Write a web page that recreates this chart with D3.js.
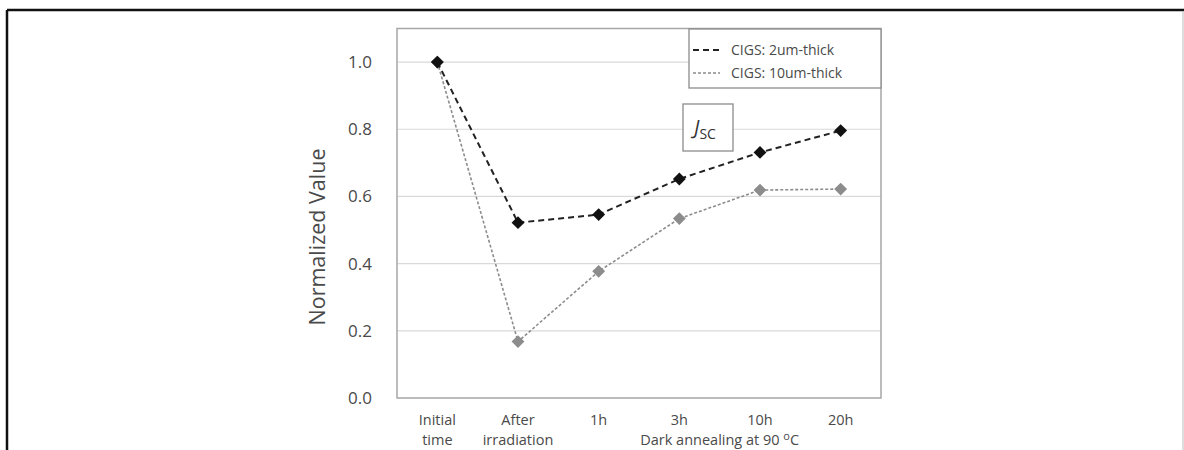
<!DOCTYPE html>
<html>
<head>
<meta charset="utf-8">
<script src="https://cdn.jsdelivr.net/npm/d3@7"></script>
<style>
  body { margin: 0; background: #fff; }
  svg { display: block; font-family: "Open Sans", "Noto Sans", sans-serif; }
</style>
</head>
<body>
<svg id="chart" width="1184" height="450"></svg>
<script>
const categories = ['Initial time', 'After irradiation', '1h', '3h', '10h', '20h'];
const categoryLines = [['Initial', 'time'], ['After', 'irradiation'], ['1h'], ['3h'], ['10h'], ['20h']];
const thin2um = [1.0, 0.522, 0.546, 0.652, 0.731, 0.796];
const thick10um = [1.0, 0.168, 0.377, 0.534, 0.619, 0.622];
const yTicks = [0.0, 0.2, 0.4, 0.6, 0.8, 1.0];
const seriesNames = ['CIGS: 2um-thick', 'CIGS: 10um-thick'];

const svg = d3.select('#chart');
const textCol = '#4a4a4a';

// outer frame of the figure
svg.append('line').attr('x1', 7).attr('x2', 1184).attr('y1', 10).attr('y2', 10)
    .attr('stroke', '#111').attr('stroke-width', 2.5);
svg.append('line').attr('x1', 7).attr('x2', 7).attr('y1', 10).attr('y2', 450)
    .attr('stroke', '#111').attr('stroke-width', 2.5);
svg.append('line').attr('x1', 1183).attr('x2', 1183).attr('y1', 11).attr('y2', 450)
    .attr('stroke', '#bbb').attr('stroke-width', 1);

const plotL = 397, plotR = 881, plotT = 28.5, plotB = 398;

const x = d3.scaleBand().domain(categories).range([plotL, plotR]);
const y = d3.scaleLinear().domain([0, 1.1]).range([plotB, plotT]);
const cx = d => x(d) + x.bandwidth() / 2;

// gridlines
svg.append('g').selectAll('line')
    .data(yTicks.filter(d => d > 0))
    .enter().append('line')
        .attr('x1', plotL).attr('x2', plotR)
        .attr('y1', d => y(d)).attr('y2', d => y(d))
        .attr('stroke', '#d9d9d9').attr('stroke-width', 1.2);

// plot box
svg.append('rect')
    .attr('x', plotL).attr('y', plotT)
    .attr('width', plotR - plotL).attr('height', plotB - plotT)
    .attr('fill', 'none').attr('stroke', '#a6a6a6').attr('stroke-width', 1.5);

// y axis
const yAxis = svg.append('g')
    .attr('transform', 'translate(' + plotL + ',0)')
    .call(d3.axisLeft(y).tickValues(yTicks).tickFormat(d3.format('.1f')).tickSize(0).tickPadding(25));
yAxis.select('.domain').remove();
yAxis.selectAll('text').attr('font-size', 17).attr('fill', textCol)
    .attr('font-family', '"Open Sans", sans-serif');

svg.append('text')
    .attr('transform', 'translate(325,237) rotate(-90)')
    .attr('text-anchor', 'middle')
    .attr('font-size', 21.5).attr('fill', textCol)
    .text('Normalized Value');

// x labels
const xl = svg.append('g').selectAll('text')
    .data(categories)
    .enter().append('text')
        .attr('x', d => cx(d))
        .attr('y', 425)
        .attr('text-anchor', 'middle')
        .attr('font-size', 14.5).attr('fill', textCol);
xl.each(function(d, i) {
    const t = d3.select(this);
    categoryLines[i].forEach((s, j) => {
        t.append('tspan').attr('x', cx(d)).attr('dy', j === 0 ? 0 : 20).text(s);
    });
});
svg.append('text')
    .attr('x', cx('3h') + x.bandwidth() / 2).attr('y', 445)
    .attr('text-anchor', 'middle')
    .attr('font-size', 14.5).attr('fill', textCol)
    .html('Dark annealing at 90 <tspan dy="-5" font-size="11">o</tspan><tspan dy="5">C</tspan>');

// series
const line = d3.line().x((d, i) => cx(categories[i])).y(d => y(d));
const diamond = d3.symbol().type(d3.symbolDiamond2);

svg.append('path').datum(thick10um)
    .attr('d', line).attr('fill', 'none')
    .attr('stroke', '#8c8c8c').attr('stroke-width', 1.6).attr('stroke-dasharray', '3,2');
svg.append('g').selectAll('path')
    .data(thick10um).enter().append('path')
        .attr('d', diamond.size(105))
        .attr('transform', (d, i) => 'translate(' + cx(categories[i]) + ',' + y(d) + ')')
        .attr('fill', '#8c8c8c');

svg.append('path').datum(thin2um)
    .attr('d', line).attr('fill', 'none')
    .attr('stroke', '#222').attr('stroke-width', 2).attr('stroke-dasharray', '6,4');
svg.append('g').selectAll('path')
    .data(thin2um).enter().append('path')
        .attr('d', diamond.size(105))
        .attr('transform', (d, i) => 'translate(' + cx(categories[i]) + ',' + y(d) + ')')
        .attr('fill', '#111');

// legend
const lg = svg.append('g');
lg.append('rect').attr('x', 689).attr('y', 29).attr('width', 192).attr('height', 59)
    .attr('fill', '#fff').attr('stroke', '#8c8c8c').attr('stroke-width', 1.3);
const lgStyles = [
    { stroke: '#222', width: 2, dash: '6,4' },
    { stroke: '#8c8c8c', width: 1.4, dash: '3,2' }
];
seriesNames.forEach((name, i) => {
    const yy = 50 + i * 23;
    lg.append('line').attr('x1', 693).attr('x2', 720).attr('y1', yy).attr('y2', yy)
        .attr('stroke', lgStyles[i].stroke).attr('stroke-width', lgStyles[i].width)
        .attr('stroke-dasharray', lgStyles[i].dash);
    lg.append('text').attr('x', 731).attr('y', yy + 5)
        .attr('font-size', 14).attr('fill', textCol).text(name);
});

// J_SC label
svg.append('rect').attr('x', 683).attr('y', 104).attr('width', 50).attr('height', 47)
    .attr('fill', '#fff').attr('stroke', '#8c8c8c').attr('stroke-width', 1.3);
svg.append('text').attr('x', 694).attr('y', 134)
    .attr('font-size', 20).attr('fill', '#333')
    .html('<tspan font-style="italic">J</tspan><tspan dy="5" font-size="14">SC</tspan>');
</script>
</body>
</html>
